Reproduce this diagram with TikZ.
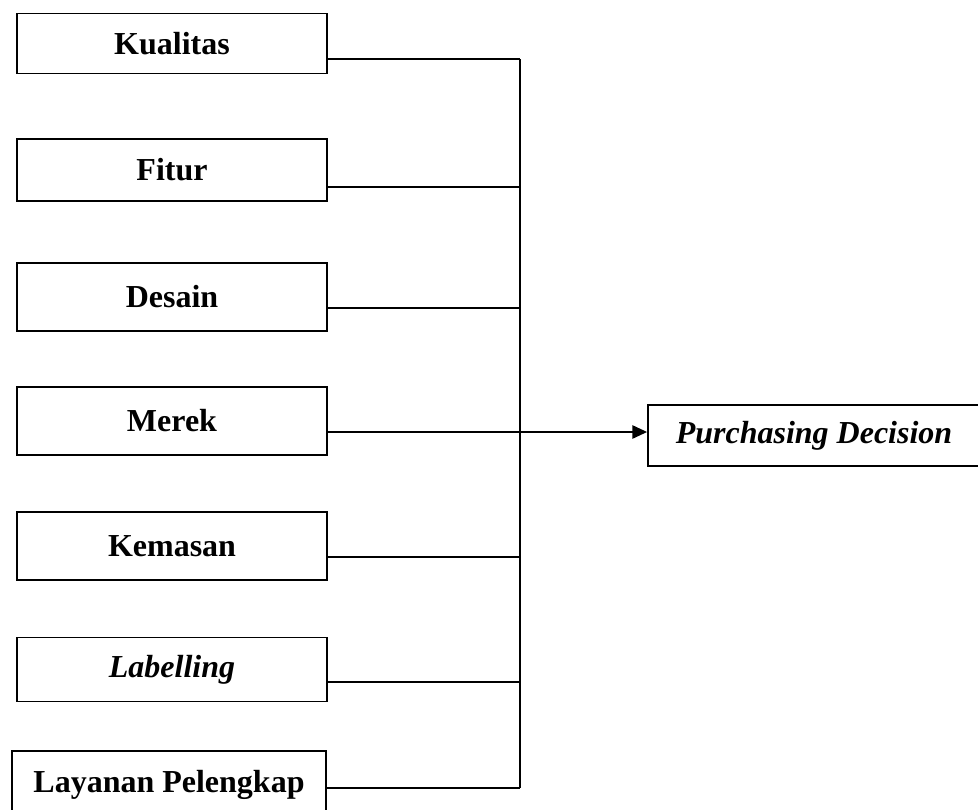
\documentclass[tikz,border=0pt]{standalone}
\usepackage{fontspec}
\setmainfont{Liberation Serif}
\usetikzlibrary{arrows.meta}
\begin{document}
\begin{tikzpicture}[x=0.75pt,y=-0.75pt,
  varbox/.style={draw=black,line width=1.4pt,rectangle,inner sep=0pt,
    minimum width=232.5pt,font=\fontsize{24}{28}\selectfont\bfseries},
  link/.style={line width=1.1pt,draw=black},
  arr/.style={link,-{Triangle[length=11pt,width=10pt]}}]
\useasboundingbox (0,0) rectangle (978,810);
\clip (0,0) rectangle (978,810);
\fill[white] (0,0) rectangle (978,810);
% boxes
\node[varbox,minimum height=45pt] (kua) at (172,43.5) {Kualitas};
\node[varbox,minimum height=46pt] (fit) at (172,170) {Fitur};
\node[varbox,minimum height=51pt] (des) at (172,297) {Desain};
\node[varbox,minimum height=51pt] (mer) at (172,421) {Merek};
\node[varbox,minimum height=51pt] (kem) at (172,546) {Kemasan};
\node[varbox,minimum height=48pt,font=\fontsize{24}{28}\selectfont\bfseries\itshape] (lab) at (172,669.5) {Labelling};
\node[varbox,minimum width=235.5pt,minimum height=51pt] (lay) at (169,785) {Layanan Pelengkap};
\node[varbox,minimum width=249pt,minimum height=45.75pt,font=\fontsize{24}{28}\selectfont\bfseries\itshape] (pd) at (814,435.5) {Purchasing Decision};
% junction points on the vertical bus
\coordinate (jk) at (520,59);
\coordinate (jf) at (520,187);
\coordinate (jd) at (520,308);
\coordinate (jm) at (520,432);
\coordinate (je) at (520,557);
\coordinate (jl) at (520,682);
\coordinate (jy) at (520,788);
% connectors
\draw[link] (jk) -- (jy);
\draw[link] (kua.east |- jk) -- (jk);
\draw[link] (fit.east |- jf) -- (jf);
\draw[link] (des.east |- jd) -- (jd);
\draw[link] (kem.east |- je) -- (je);
\draw[link] (lab.east |- jl) -- (jl);
\draw[link] (lay.east |- jy) -- (jy);
\draw[arr] (mer.east |- jm) -- (pd.west |- jm);
\end{tikzpicture}
\end{document}
